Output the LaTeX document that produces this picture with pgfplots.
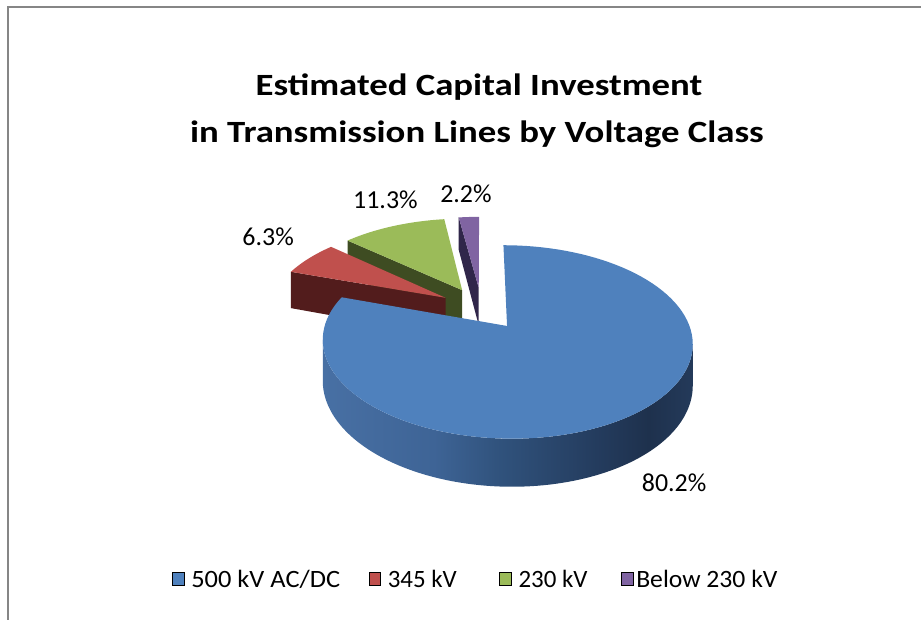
\documentclass[border=0pt]{standalone}
\usepackage{fontspec}
\setmainfont{Carlito}
\usepackage{graphicx}
\usepackage{pgfplots}
\pgfplotsset{compat=1.18}

\definecolor{blueTop}{HTML}{4F81BD}
\definecolor{redTop}{HTML}{C0504D}
\definecolor{redSide}{HTML}{521C1C}
\definecolor{greenTop}{HTML}{9BBB59}
\definecolor{greenSide}{HTML}{3E4C22}
\definecolor{purpleTop}{HTML}{8064A2}
\definecolor{purpleSide}{HTML}{30264A}
\definecolor{frameGray}{HTML}{868686}
\definecolor{bsA}{RGB}{72,112,164}
\definecolor{bsB}{RGB}{62,100,150}
\definecolor{bsC}{RGB}{48,82,124}
\definecolor{bsD}{RGB}{36,60,94}
\definecolor{bsE}{RGB}{30,49,77}
\definecolor{bsF}{RGB}{36,58,90}
\pgfdeclarehorizontalshading{bluesideshade}{100bp}{color(0bp)=(bsA); color(25bp)=(bsA); color(40bp)=(bsB); color(49bp)=(bsC); color(62bp)=(bsD); color(69bp)=(bsE); color(75bp)=(bsF); color(100bp)=(bsF)}

% data: shares in percent
\def\pA{80.2}% 500 kV AC/DC
\def\pB{6.3}%  345 kV
\def\pC{11.3}% 230 kV
\def\pD{2.2}%  Below 230 kV

% slice angles, clockwise from 12 o'clock
\pgfmathsetmacro\sA{90-3.6*\pA}
\pgfmathsetmacro\sB{\sA-3.6*\pB}
\pgfmathsetmacro\sC{\sB-3.6*\pC}
\pgfmathsetmacro\sD{\sC-3.6*\pD}

\newcommand\topface[3]{%
 \addplot[fill=#3, draw=none, forget plot, domain=-1:101, samples=103, variable=\t]
 ({PX(ou(#1,#2)+rr(\t)*cos(aa(\t,#1,#2)), ov(#1,#2)+rr(\t)*sin(aa(\t,#1,#2)))},
  {PY(ov(#1,#2)+rr(\t)*sin(aa(\t,#1,#2)))});}
\newcommand\radface[4]{%
 \addplot[fill=#4, draw=none, forget plot, domain=0:3, samples=4, variable=\t]
 ({PX(ou(#2,#3)+rf(\t)*cos(#1), ov(#2,#3)+rf(\t)*sin(#1))},
  {PY(ov(#2,#3)+rf(\t)*sin(#1)) - zf(\t)*HZ(ov(#2,#3)+rf(\t)*sin(#1))});}
\newcommand\ttltxt[1]{\scalebox{1.19}[1]{#1}}

\begin{document}
\begin{tikzpicture}
\begin{axis}[
  width=922pt, height=620pt, scale only axis,
  xmin=0, xmax=922, ymin=0, ymax=620,
  axis lines=none, ticks=none, clip=false,
  declare function={
    PX(\x,\y)=483.1+177.3*\x/(1+0.16*\y);
    PY(\y)=310.8+88.6*\y/(1+0.16*\y);
    HZ(\y)=39/(1+0.16*\y);
    ou(\x,\y)=0.24*cos((\x+\y)/2);
    ov(\x,\y)=0.24*sin((\x+\y)/2);
    rr(\x)=ifthenelse(\x<-0.5,0,ifthenelse(\x>100.5,0,1));
    aa(\x,\y,\z)=\y+(\z-\y)*max(0,min(100,\x))/100;
    rf(\x)=ifthenelse(\x<0.5,0,ifthenelse(\x>2.5,0,1));
    zf(\x)=ifthenelse(\x>1.5,1,0);
    ba(\x)=ifthenelse(\x<100.5,-171.8+161*\x/100,-10.8-161*(\x-101)/100);
    bz(\x)=ifthenelse(\x<100.5,0,1);
  },
  legend columns=4,
  legend style={at={(0.1871,0.0629)}, anchor=west, draw=none, fill=none,
    font=\fontsize{25}{29}\selectfont, inner sep=0pt, outer sep=0pt,
    nodes={inner sep=0pt},
    /tikz/every odd column/.append style={column sep=7pt},
    /tikz/every even column/.append style={column sep=28.5pt}},
  legend image code/.code={\fill[#1] (0pt,-6.5pt) rectangle (12pt,6.5pt);},
]
\path (axis cs:0,0) rectangle (axis cs:922,620);
\draw[frameGray, line width=2pt] (axis cs:8,-2) -- (axis cs:8,613) -- (axis cs:924,613);

% purple
\radface{\sC}{\sD}{\sC}{purpleSide}
\topface{\sD}{\sC}{purpleTop}
% green
\radface{\sB}{\sC}{\sB}{greenSide}
\topface{\sC}{\sB}{greenTop}
% red
\radface{\sA}{\sB}{\sA}{redSide}
\topface{\sB}{\sA}{redTop}
% blue
\addplot[draw=none, shading=bluesideshade, shade, forget plot, domain=0:201, samples=202, variable=\t]
 ({PX(ou(\sA,90)+cos(ba(\t)), ov(\sA,90)+sin(ba(\t)))},
  {PY(ov(\sA,90)+sin(ba(\t))) - bz(\t)*HZ(ov(\sA,90)+sin(ba(\t)))});
\topface{\sA}{90}{blueTop}

\addlegendimage{fill=blueTop}\addlegendentry{\scalebox{1.06}[1]{500 kV AC/DC}}
\addlegendimage{fill=redTop}\addlegendentry{345 kV\rule{14pt}{0pt}}
\addlegendimage{fill=greenTop}\addlegendentry{230 kV\rule{5pt}{0pt}}
\addlegendimage{fill=purpleTop}\addlegendentry{\hspace{-4pt}\scalebox{1.03}[1]{Below 230 kV}}

\node[anchor=base, font=\fontsize{31}{37}\selectfont\bfseries] at (axis cs:480.5,524) {\ttltxt{Estimated Capital Investment}};
\node[anchor=base, font=\fontsize{31}{37}\selectfont\bfseries] at (axis cs:478.5,477.5) {\ttltxt{in Transmission Lines by Voltage Class}};

\node[anchor=base, font=\fontsize{26}{30}\selectfont] at (axis cs:676.3,127) {80.2\%};
\node[anchor=base, font=\fontsize{26}{30}\selectfont] at (axis cs:269,373.3) {6.3\%};
\node[anchor=base, font=\fontsize{26}{30}\selectfont] at (axis cs:386.7,411) {11.3\%};
\node[anchor=base, font=\fontsize{26}{30}\selectfont] at (axis cs:467.5,417) {2.2\%};
\end{axis}
\end{tikzpicture}
\end{document}
